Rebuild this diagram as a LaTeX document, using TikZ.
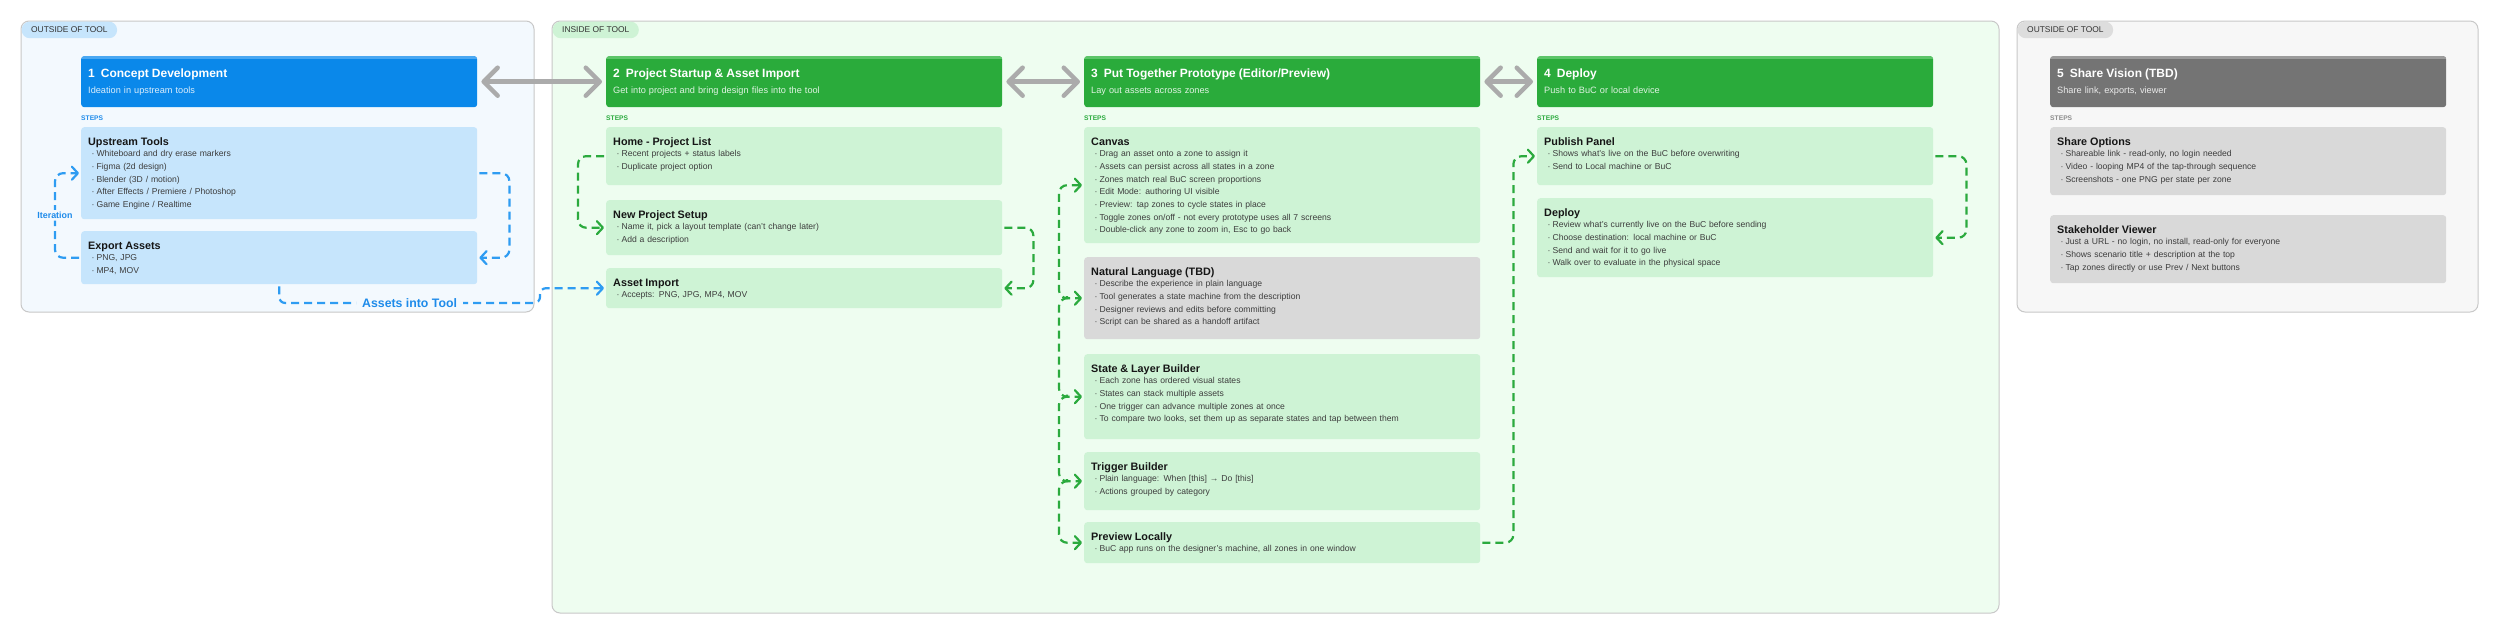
\documentclass[tikz,border=0pt]{standalone}
\usepackage{fontspec}
\setmainfont{Liberation Sans}
\usepackage{tikz}
\usetikzlibrary{arrows.meta,positioning}

\definecolor{blueHead}{HTML}{0A88EA}
\definecolor{blueTop}{HTML}{4AA8F2}
\definecolor{blueStep}{HTML}{C6E5FC}
\definecolor{bluePanel}{HTML}{F3F9FE}
\definecolor{blueLine}{HTML}{2E9CF2}
\definecolor{blueText}{HTML}{1E8BEA}
\definecolor{greenHead}{HTML}{2AAB3B}
\definecolor{greenTop}{HTML}{5CC569}
\definecolor{greenStep}{HTML}{CEF3D5}
\definecolor{greenPanel}{HTML}{EEFDF0}
\definecolor{greenLine}{HTML}{2BAA3E}
\definecolor{grayHead}{HTML}{747474}
\definecolor{grayTop}{HTML}{9C9C9C}
\definecolor{grayStep}{HTML}{D9D9D9}
\definecolor{grayPanel}{HTML}{F7F7F7}
\definecolor{grayText}{HTML}{8C8C8C}
\definecolor{panelEdge}{HTML}{C8C8C8}
\definecolor{arrowGray}{HTML}{ABABAB}
\definecolor{ink}{HTML}{161616}
\definecolor{bulletInk}{HTML}{3D3D3D}
\definecolor{tagInk}{HTML}{333333}

\newcommand{\headt}[1]{{\fontsize{12}{15.5}\selectfont\bfseries #1}}
\newcommand{\headsub}[2]{{\color{white!85!#1}#2}}
\newcommand{\stept}[1]{{\fontsize{10.8}{12.7}\selectfont\bfseries\color{ink}#1}\\[-1.2pt]}
\newcommand{\itm}[1]{\hspace*{3.5pt}\textperiodcentered\hspace{2pt}#1}

\tikzstyle{panel1}=[draw=panelEdge, line width=1pt, fill=bluePanel, rounded corners=8pt]
\tikzstyle{panel2}=[draw=panelEdge, line width=1pt, fill=greenPanel, rounded corners=8pt]
\tikzstyle{panel3}=[draw=panelEdge, line width=1pt, fill=grayPanel, rounded corners=8pt]
\tikzstyle{tag1}=[rectangle, fill=blueStep, rounded corners=8pt, anchor=north west, minimum height=16.5pt, inner xsep=9.5pt, inner ysep=0pt, text=tagInk, font=\fontsize{8.4}{10}\selectfont]
\tikzstyle{tag2}=[tag1, fill=greenStep]
\tikzstyle{tag3}=[tag1, fill=grayStep!90!white]
\tikzstyle{head1}=[rectangle, fill=blueHead, rounded corners=3pt, anchor=north west, text width=382pt, inner xsep=7pt, inner ysep=0pt, text height=21.3pt, text depth=29.7pt, align=left, text=white, font=\fontsize{9.2}{15.5}\selectfont, path picture={\fill[blueTop, sharp corners] (path picture bounding box.north west) rectangle ([yshift=-2.5pt]path picture bounding box.north east);}]
\tikzstyle{head2}=[head1, fill=greenHead, path picture={\fill[greenTop, sharp corners] (path picture bounding box.north west) rectangle ([yshift=-2.5pt]path picture bounding box.north east);}]
\tikzstyle{head3}=[head1, fill=grayHead, path picture={\fill[grayTop, sharp corners] (path picture bounding box.north west) rectangle ([yshift=-2.5pt]path picture bounding box.north east);}]
\tikzstyle{box1}=[rectangle, fill=blueStep, rounded corners=3pt, anchor=north west, text width=382pt, inner xsep=7pt, inner ysep=0pt, text height=18pt, align=left, text=bulletInk, font=\fontsize{8.6}{12.7}\selectfont]
\tikzstyle{box2}=[box1, fill=greenStep]
\tikzstyle{box3}=[box1, fill=grayStep]
\tikzstyle{steps1}=[anchor=base west, inner sep=0pt, text=blueText, font=\fontsize{6.7}{8}\selectfont\bfseries]
\tikzstyle{steps2}=[steps1, text=greenLine]
\tikzstyle{steps3}=[steps1, text=grayText]
\tikzstyle{flow1}=[draw=blueLine, line width=2.2pt, dash pattern=on 8pt off 5pt, rounded corners=8pt, >={Straight Barb[length=6pt,width=13pt,round]}, shorten <=2pt, shorten >=2pt]
\tikzstyle{flow2}=[flow1, draw=greenLine]
\tikzstyle{twoway}=[draw=arrowGray, line width=4.5pt, <->, >={Straight Barb[length=14pt,width=28pt,round]}, shorten <=4pt, shorten >=4pt]
\tikzstyle{note1}=[fill=bluePanel, text=blueText, inner xsep=2pt, inner ysep=2pt, font=\fontsize{8.9}{10}\selectfont\bfseries]
\tikzstyle{note2}=[note1, inner xsep=6pt, font=\fontsize{12.3}{14}\selectfont\bfseries]

\begin{document}
\begin{tikzpicture}[x=1pt,y=-1pt]
\useasboundingbox (0,0) rectangle (2500,635);
\fill[white] (0,0) rectangle (2500,635);

%Panels
\draw[panel1] (21,21) rectangle (534,312);
\draw[panel2] (552,21) rectangle (1999,613);
\draw[panel3] (2017,21) rectangle (2478,312);
\node[tag1] (tagl) at (21.5,21.5) {OUTSIDE OF TOOL};
\node[tag2] (tagm) at (552.5,21.5) {INSIDE OF TOOL};
\node[tag3] (tagr) at (2017.5,21.5) {OUTSIDE OF TOOL};

%Column 1
\node[head1] (h1) at (81,56) {\headt{1\hspace{6pt}Concept Development}\\\headsub{blueHead}{Ideation in upstream tools}};
\node[steps1] (st1) at (81,120.5) {STEPS};
\node[box1, text depth=74pt] (upstream) at (81,127) {\stept{Upstream Tools}\itm{Whiteboard and dry erase markers}\\\itm{Figma (2d design)}\\\itm{Blender (3D / motion)}\\\itm{After Effects / Premiere / Photoshop}\\\itm{Game Engine / Realtime}};
\node[box1, text depth=35pt] (export) at (81,231) {\stept{Export Assets}\itm{PNG, JPG}\\\itm{MP4, MOV}};

%Column 2
\node[head2] (h2) at (606,56) {\headt{2\hspace{6pt}Project Startup \& Asset Import}\\\headsub{greenHead}{Get into project and bring design files into the tool}};
\node[steps2] (st2) at (606,120.5) {STEPS};
\node[box2, text depth=40pt] (home) at (606,127) {\stept{Home - Project List}\itm{Recent projects + status labels}\\\itm{Duplicate project option}};
\node[box2, text depth=37pt] (newproj) at (606,200) {\stept{New Project Setup}\itm{Name it, pick a layout template (can't change later)}\\\itm{Add a description}};
\node[box2, text depth=22pt] (assetimp) at (606,268) {\stept{Asset Import}\itm{Accepts: PNG, JPG, MP4, MOV}};

%Column 3
\node[head2] (h3) at (1084,56) {\headt{3\hspace{6pt}Put Together Prototype (Editor/Preview)}\\\headsub{greenHead}{Lay out assets across zones}};
\node[steps2] (st3) at (1084,120.5) {STEPS};
\node[box2, text depth=98pt] (canvas) at (1084,127) {\stept{Canvas}\itm{Drag an asset onto a zone to assign it}\\\itm{Assets can persist across all states in a zone}\\\itm{Zones match real BuC screen proportions}\\\itm{Edit Mode: authoring UI visible}\\\itm{Preview: tap zones to cycle states in place}\\\itm{Toggle zones on/off - not every prototype uses all 7 screens}\\\itm{Double-click any zone to zoom in, Esc to go back}};
\node[box3, text depth=64pt] (natlang) at (1084,257) {\stept{Natural Language (TBD)}\itm{Describe the experience in plain language}\\\itm{Tool generates a state machine from the description}\\\itm{Designer reviews and edits before committing}\\\itm{Script can be shared as a handoff artifact}};
\node[box2, text depth=67pt] (statelayer) at (1084,354) {\stept{State \& Layer Builder}\itm{Each zone has ordered visual states}\\\itm{States can stack multiple assets}\\\itm{One trigger can advance multiple zones at once}\\\itm{To compare two looks, set them up as separate states and tap between them}};
\node[box2, text depth=40pt] (trigger) at (1084,452) {\stept{Trigger Builder}\itm{Plain language: When [this] → Do [this]}\\\itm{Actions grouped by category}};
\node[box2, text depth=23pt] (preview) at (1084,522) {\stept{Preview Locally}\itm{BuC app runs on the designer's machine, all zones in one window}};

%Column 4
\node[head2] (h4) at (1537,56) {\headt{4\hspace{6pt}Deploy}\\\headsub{greenHead}{Push to BuC or local device}};
\node[steps2] (st4) at (1537,120.5) {STEPS};
\node[box2, text depth=40pt] (publish) at (1537,127) {\stept{Publish Panel}\itm{Shows what's live on the BuC before overwriting}\\\itm{Send to Local machine or BuC}};
\node[box2, text depth=61pt] (deploy) at (1537,198) {\stept{Deploy}\itm{Review what's currently live on the BuC before sending}\\\itm{Choose destination: local machine or BuC}\\\itm{Send and wait for it to go live}\\\itm{Walk over to evaluate in the physical space}};

%Column 5
\node[head3] (h5) at (2050,56) {\headt{5\hspace{6pt}Share Vision (TBD)}\\\headsub{grayHead}{Share link, exports, viewer}};
\node[steps3] (st5) at (2050,120.5) {STEPS};
\node[box3, text depth=50pt] (share) at (2050,127) {\stept{Share Options}\itm{Shareable link - read-only, no login needed}\\\itm{Video - looping MP4 of the tap-through sequence}\\\itm{Screenshots - one PNG per state per zone}};
\node[box3, text depth=50pt] (stake) at (2050,215) {\stept{Stakeholder Viewer}\itm{Just a URL - no login, no install, read-only for everyone}\\\itm{Shows scenario title + description at the top}\\\itm{Tap zones directly or use Prev / Next buttons}};

%Arrows between stages
\draw[twoway] (h1.east) -- (h2.west);
\draw[twoway] (h2.east) -- (h3.west);
\draw[twoway] (h3.east) -- (h4.west);

%Step flows
\draw[flow1,->] (upstream.east) -- ++(32,0) |- (export.east);
\draw[flow1,->] (export.west) -- ++(-26,0) |- node[pos=0.25,note1] (lbliter) {Iteration} (upstream.west);
\coordinate (jog) at (540,303);
\draw[flow1,->,rounded corners=6pt] (export.south) |- node[pos=0.75,note2] (lblassets) {Assets into Tool} (jog) |- (assetimp.west);

\draw[flow2,->] (home.west) -- ++(-28,0) |- (newproj.west);
\draw[flow2,->] (newproj.east) -- ++(31,0) |- (assetimp.east);

\draw[flow2,<->] (canvas.west) -- ++(-25,0) |- (natlang.west);
\draw[flow2,->] ([xshift=-17pt]natlang.west) -- ++(-8,0) |- (statelayer.west);
\draw[flow2,->] ([xshift=-17pt]statelayer.west) -- ++(-8,0) |- (trigger.west);
\draw[flow2,->] ([xshift=-17pt]trigger.west) -- ++(-8,0) |- (preview.west);

\draw[flow2,->] (preview.east) -- ++(33,0) |- (publish.west);
\draw[flow2,->] (publish.east) -- ++(33,0) |- (deploy.east);

\end{tikzpicture}
\end{document}
